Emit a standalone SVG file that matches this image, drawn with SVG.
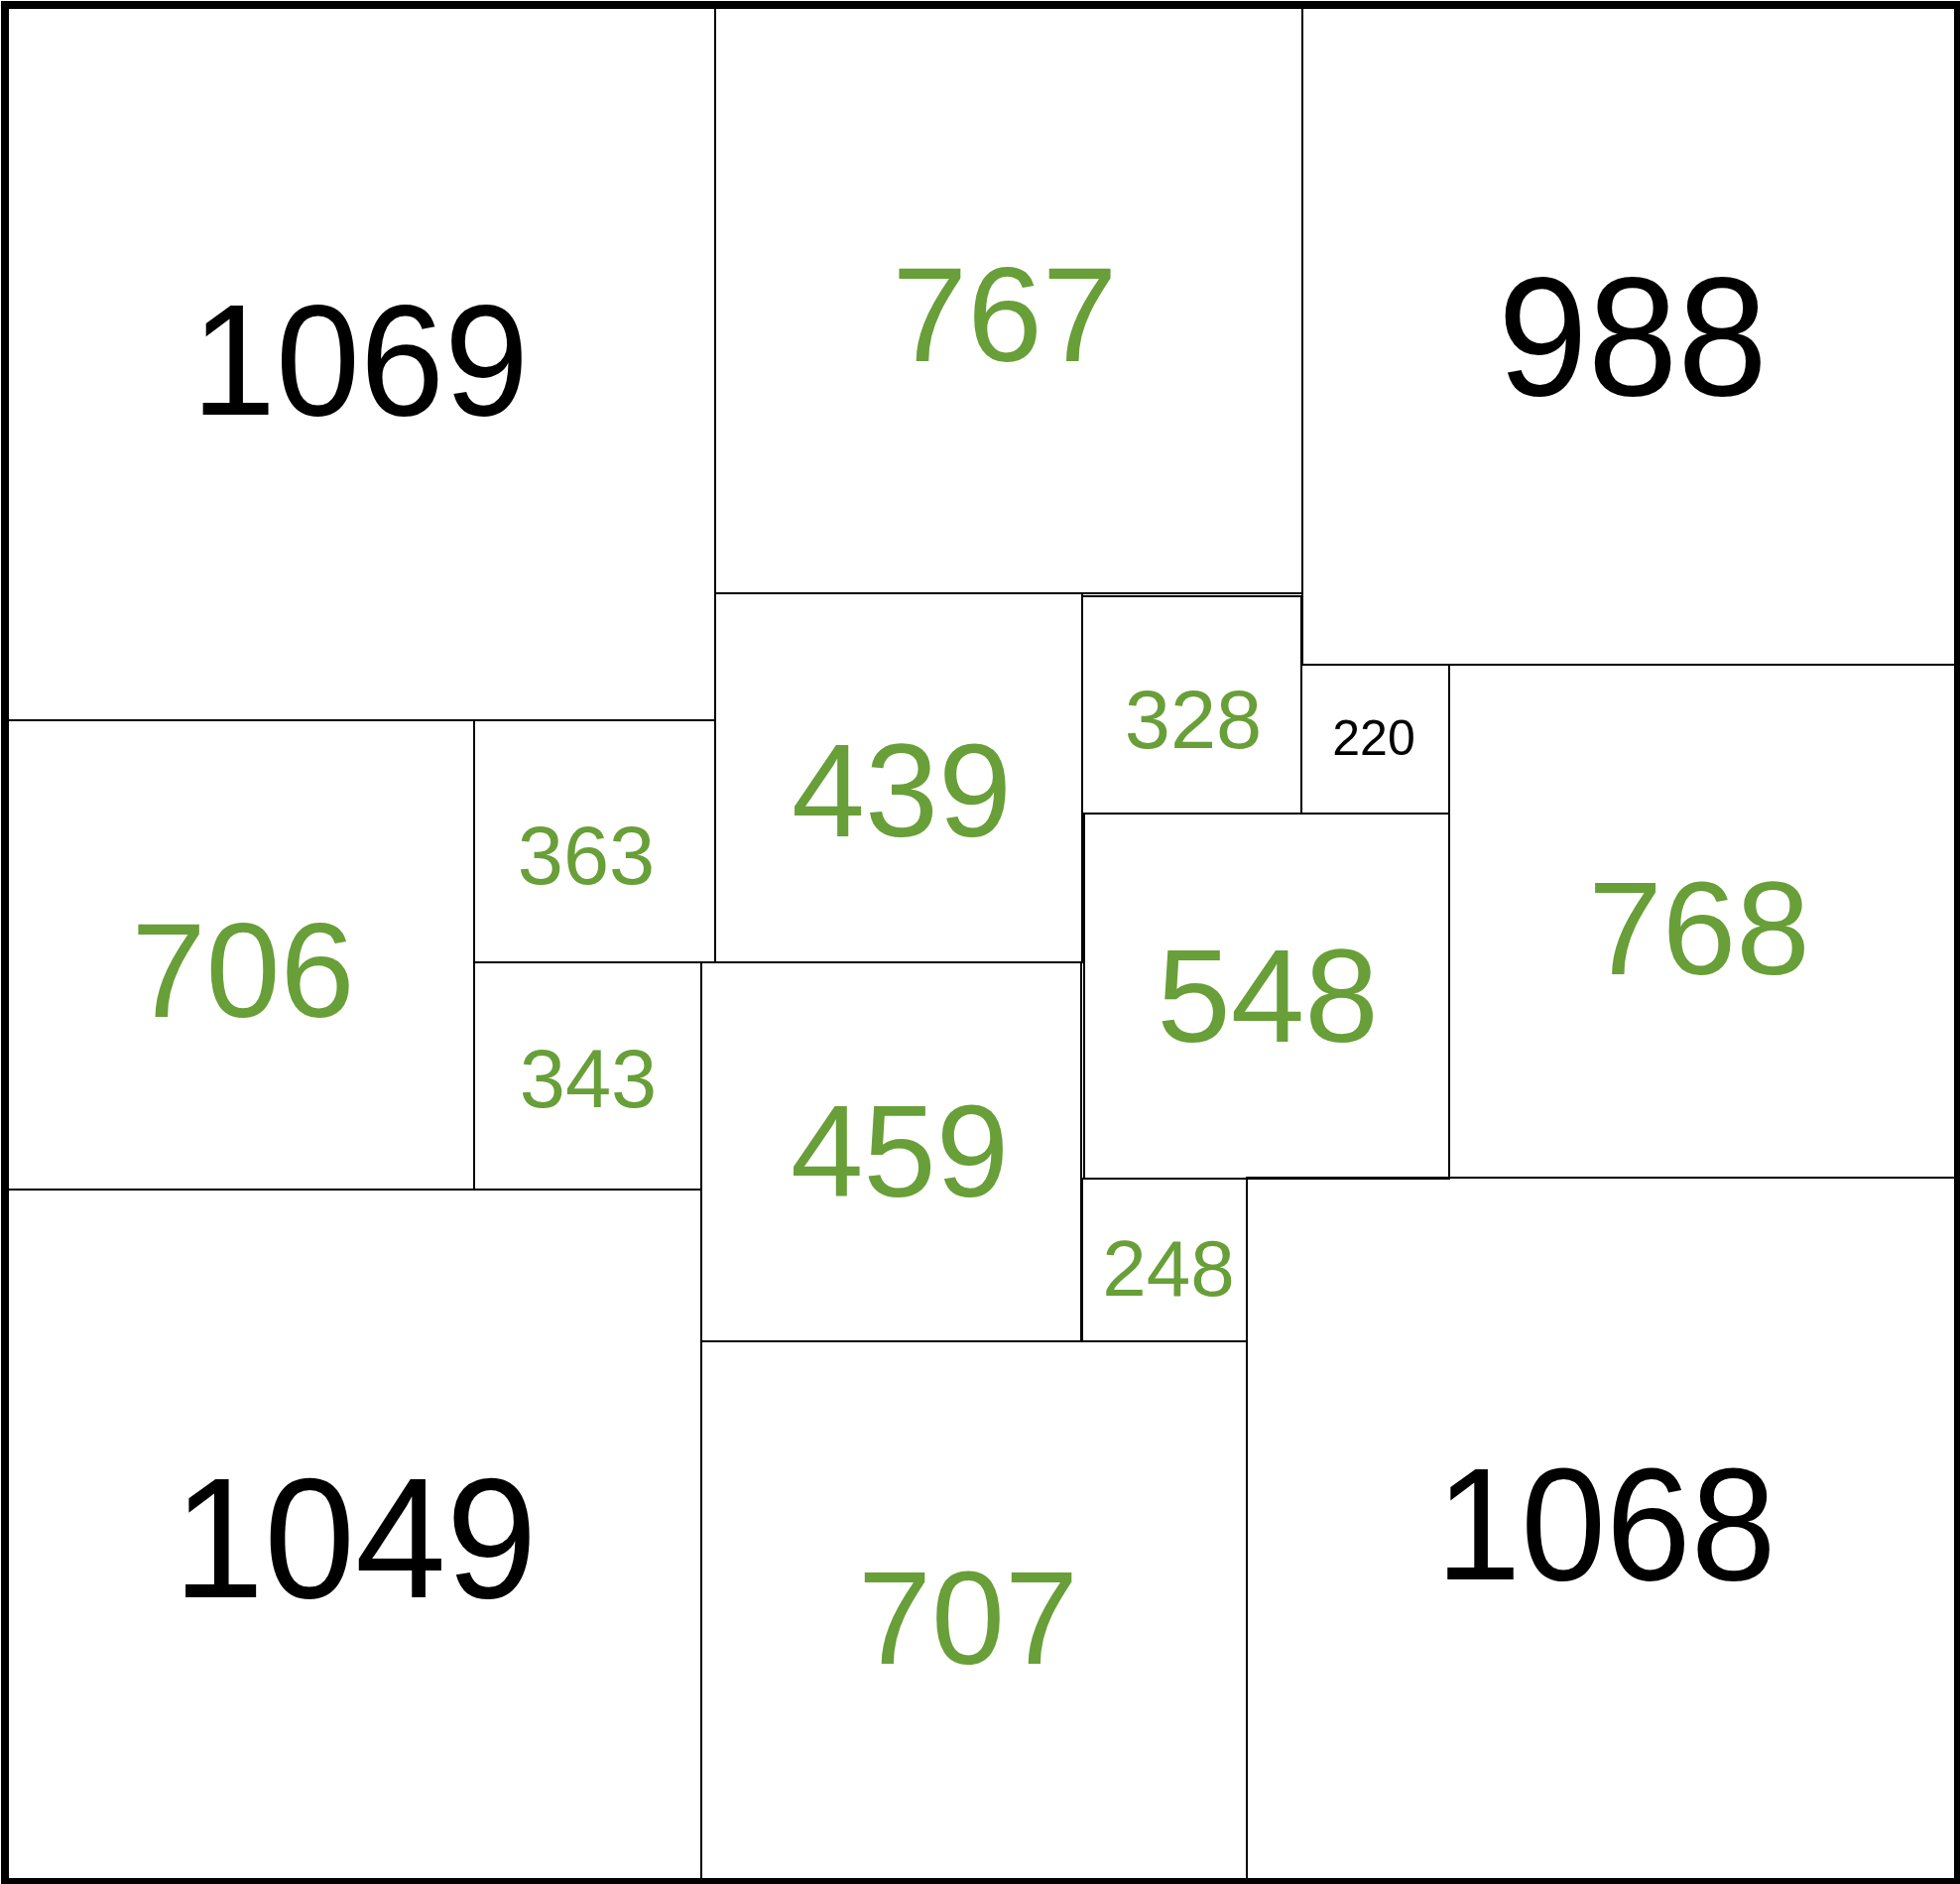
<svg xmlns="http://www.w3.org/2000/svg" width="1976" height="1899" viewBox="0 0 1976 1899">
<style>
.sq{fill:none;stroke:#000;stroke-width:2}
.t{font-family:"Liberation Sans",Arial,sans-serif;text-anchor:middle}
.g{fill:#689f38}
.k{fill:#000}
</style>
<rect x="0" y="0" width="1976" height="1899" fill="#fff"/>
<g id="n1069"><rect class="sq" x="5" y="5" width="716" height="721"/><text class="t k" x="363" y="418" font-size="160" textLength="340" lengthAdjust="spacingAndGlyphs">1069</text></g>
<g id="n767"><rect class="sq" x="721" y="5" width="592" height="593"/><text class="t g" x="1013" y="364" font-size="136">767</text></g>
<g id="n988"><rect class="sq" x="1313" y="5" width="661" height="665"/><text class="t k" x="1646" y="398" font-size="170" textLength="272" lengthAdjust="spacingAndGlyphs">988</text></g>
<g id="n706"><rect class="sq" x="5" y="726" width="473" height="473"/><text class="t g" x="245" y="1025" font-size="135">706</text></g>
<g id="n363"><rect class="sq" x="478" y="726" width="243" height="244"/><text class="t g" x="591" y="891" font-size="83">363</text></g>
<g id="n343"><rect class="sq" x="478" y="970" width="229" height="229"/><text class="t g" x="593" y="1116" font-size="83">343</text></g>
<g id="n439"><rect class="sq" x="721" y="598" width="370" height="372"/><text class="t g" x="909" y="843" font-size="133">439</text></g>
<g id="n328"><rect class="sq" x="1091" y="601" width="221" height="219"/><text class="t g" x="1203" y="754" font-size="83">328</text></g>
<g id="n220"><rect class="sq" x="1312" y="670" width="149" height="150"/><text class="t k" x="1385" y="761" font-size="50">220</text></g>
<g id="n548"><rect class="sq" x="1093" y="820" width="368" height="368"/><text class="t g" x="1278" y="1050" font-size="134">548</text></g>
<g id="n768"><rect class="sq" x="1461" y="670" width="513" height="517"/><text class="t g" x="1713" y="982" font-size="134">768</text></g>
<g id="n459"><rect class="sq" x="707" y="970" width="383" height="382"/><text class="t g" x="907" y="1206" font-size="132">459</text></g>
<g id="n248"><rect class="sq" x="1091" y="1188" width="166" height="164"/><text class="t g" x="1178" y="1306" font-size="80">248</text></g>
<g id="n1049"><rect class="sq" x="5" y="1199" width="702" height="698"/><text class="t k" x="358" y="1610" font-size="173" textLength="367" lengthAdjust="spacingAndGlyphs">1049</text></g>
<g id="n707"><rect class="sq" x="707" y="1352" width="550" height="545"/><text class="t g" x="976" y="1677" font-size="133">707</text></g>
<g id="n1068"><rect class="sq" x="1257" y="1187" width="717" height="707"/><text class="t k" x="1619" y="1592" font-size="162" textLength="343" lengthAdjust="spacingAndGlyphs">1068</text></g>
<g id="frame"><rect x="5" y="5" width="1969" height="1892" fill="none" stroke="#000" stroke-width="8"/></g>
</svg>
